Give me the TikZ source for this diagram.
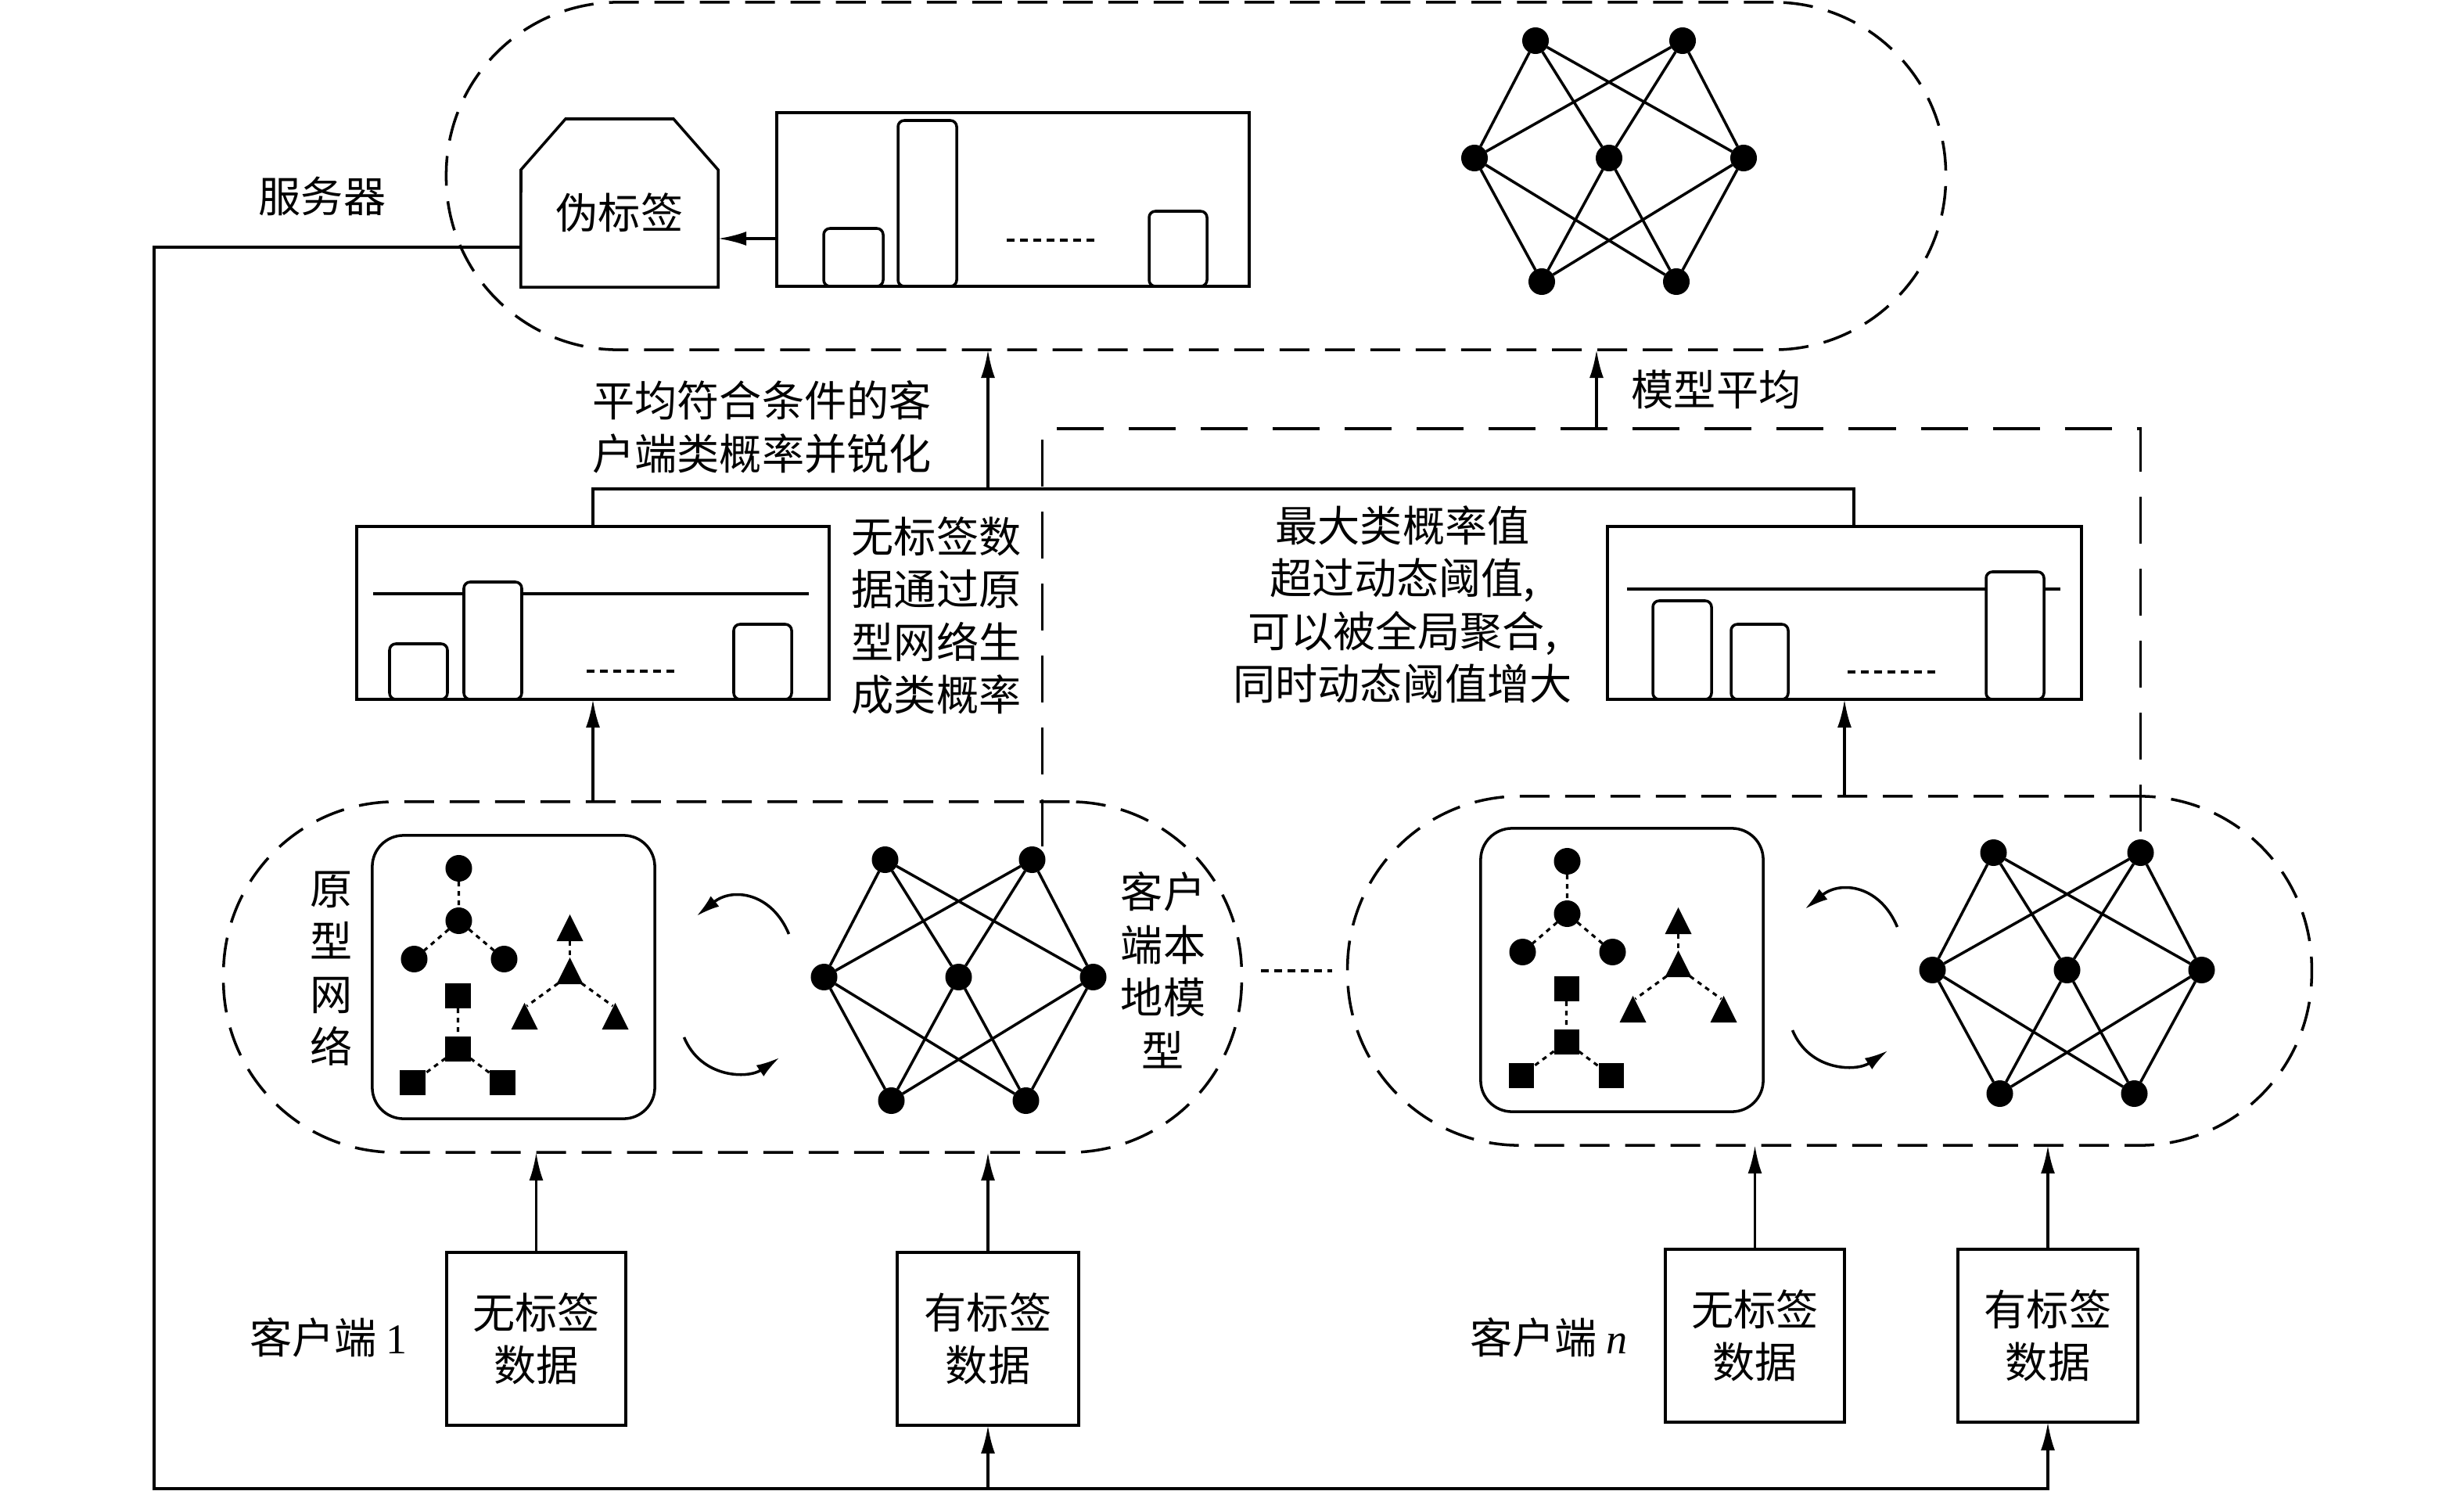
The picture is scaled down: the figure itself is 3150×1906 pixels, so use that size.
\documentclass[tikz,border=0pt]{standalone}
\usepackage{fontspec}
\setmainfont{Liberation Serif}
\newfontfamily\cjk{Noto Sans CJK SC}
\usetikzlibrary{arrows.meta,calc}
\newcommand\mynncode{%
  \node[nn] (-t1) at (-94,-150) {};
  \node[nn] (-t2) at (94,-150) {};
  \node[nn] (-m1) at (-172,0) {};
  \node[nn] (-m2) at (0,0) {};
  \node[nn] (-m3) at (172,0) {};
  \node[nn] (-b1) at (-86,158) {};
  \node[nn] (-b2) at (86,158) {};
  \foreach \a in {t1,t2,b1,b2}{\foreach \b in {m1,m2,m3}{\draw[edge] (-\a) -- (-\b);}}%
}
\newcommand\mytri[3]{% name, x, y (centre of bounding box)
  \fill (#2-17,#3+17) -- (#2,#3-17) -- (#2+17,#3+17) -- cycle;
  \coordinate (-#1) at (#2,#3);
}
\tikzset{
  every node/.style={inner sep=0pt, outer sep=0pt},
  lw/.style={line width=1pt},
  edge/.style={line width=1pt},
  plain/.style={draw, line width=1pt, fill=white},
  dbox/.style={draw, line width=1pt, dash pattern=on 0.38cm off 0.2cm, rounded corners=2.2cm},
  pbox/.style={draw, line width=1pt, rounded corners=0.4cm},
  bar/.style={draw, line width=1pt, fill=white, rounded corners=0.08cm},
  nn/.style={circle, fill=black, minimum size=0.34cm},
  tc/.style={circle, fill=black, minimum size=0.34cm},
  tsq/.style={rectangle, fill=black, minimum size=0.32cm},
  tree/.style={line width=0.9pt, dash pattern=on 0.06cm off 0.06cm},
  dots/.style={line width=1pt, dash pattern=on 0.1cm off 0.07cm},
  dashlink/.style={line width=1pt, dash pattern=on 0.6cm off 0.32cm},
  arr/.style={line width=1pt, -{Latex[length=0.36cm,width=0.18cm]}},
  carr/.style={line width=1pt, -{Latex[length=0.3cm,width=0.17cm]}},
  txt/.style={font=\cjk\fontsize{15.4pt}{19.2pt}\selectfont},
  nnet/.pic={\mynncode},
  core/.pic={
    \node[pbox, minimum width=3.61cm, minimum height=3.62cm] (-proto) at (0,0) {};
    \node[tc] (-c1) at (-70,-139) {};
    \node[tc] (-c2) at (-70,-72) {};
    \node[tc] (-c3) at (-127,-23) {};
    \node[tc] (-c4) at (-12,-23) {};
    \mytri{r1}{72}{-63}
    \mytri{r2}{72}{-8}
    \mytri{r3}{14}{50}
    \mytri{r4}{130}{50}
    \node[tsq] (-s1) at (-71,24) {};
    \node[tsq] (-s2) at (-71,92) {};
    \node[tsq] (-s3) at (-129,135) {};
    \node[tsq] (-s4) at (-14,135) {};
    \draw[tree] (-c1) -- (-c2) (-c2) -- (-c3) (-c2) -- (-c4);
    \draw[tree] ([yshift=-0.17cm]-r1) -- ([yshift=0.17cm]-r2);
    \draw[tree] ([xshift=-0.15cm,yshift=-0.16cm]-r2) -- ([xshift=0.03cm,yshift=0.13cm]-r3);
    \draw[tree] ([xshift=0.15cm,yshift=-0.16cm]-r2) -- ([xshift=-0.03cm,yshift=0.13cm]-r4);
    \draw[tree] (-s1) -- (-s2) (-s2) -- (-s3) (-s2) -- (-s4);
    \draw[carr] (352,-55) .. controls (330,-108) and (280,-115) .. (234,-78);
    \draw[carr] (218,77) .. controls (240,130) and (300,130) .. (340,103);
    \begin{scope}[shift={(569,0)}]\mynncode\end{scope}
  }
}
\begin{document}
\begin{tikzpicture}[x=0.01cm,y=-0.01cm]
\useasboundingbox (0,0) rectangle (3150,1906);

% ---------- server ----------
\node[dbox, minimum width=19.16cm, minimum height=4.44cm] (server) at (1529,225) {};
\node[txt] (slabel) at (412,251) {服务器};
\node[minimum width=2.52cm, minimum height=2.15cm] (pl) at (792,259.5) {};
\draw[lw] (pl.south west) -- (666,217) -- (723,152) -- (861,152) -- (918,217) -- (pl.south east) -- cycle;
\node[txt] (pltext) at (792,272) {伪标签};

\node[plain, minimum width=6.04cm, minimum height=2.22cm] (sb) at (1295,255) {};
\draw[bar] (1053,366) rectangle (1129,292);
\draw[bar] (1148,366) rectangle (1223,154);
\draw[bar] (1469,366) rectangle (1543,270);
\draw[dots] (1287,307) -- (1404,307);
\draw[arr] (sb.west |- 0,305) -- (pl.east |- 0,305);

\pic (snn) at (2057,202) {nnet};

% ---------- clients ----------
\node[dbox, minimum width=13.01cm, minimum height=4.48cm] (c1box) at (936.5,1249) {};
\node[dbox, minimum width=12.32cm, minimum height=4.46cm] (cnbox) at (2339,1241) {};
\pic (c1) at (656.5,1249) {core};
\pic (cn) at (2073.5,1240) {core};
\draw[dots] ([xshift=0.25cm]c1box.east |- cnbox.west) -- ([xshift=-0.2cm]cnbox.west);

\node[txt, align=center] (t5) at (424,1238) {原\\型\\网\\络};
\node[txt, align=center] (t6) at (1487,1240) {客户\\端本\\地模\\型};

% ---------- client bar boxes ----------
\node[plain, minimum width=6.04cm, minimum height=2.21cm] (b1) at (758,783.5) {};
\draw[lw] (477,759) -- (1034,759);
\draw[bar] (498,894) rectangle (572,823);
\draw[bar] (593,894) rectangle (667,744);
\draw[bar] (938,894) rectangle (1012,798);
\draw[dots] (750,858) -- (869,858);

\node[plain, minimum width=6.06cm, minimum height=2.21cm] (bn) at (2358,783.5) {};
\draw[lw] (2080,753) -- (2634,753);
\draw[bar] (2113,894) rectangle (2188,768);
\draw[bar] (2213,894) rectangle (2286,798);
\draw[bar] (2539,894) rectangle (2613,731);
\draw[dots] (2362,859) -- (2478,859);

\draw[arr] (c1box.north -| b1.south) -- (b1.south);
\draw[arr] (cnbox.north -| bn.south) -- (bn.south);

% ---------- aggregation ----------
\coordinate (agg) at (1263,625);
\draw[lw] (b1.north) |- (agg) -| ([xshift=0.12cm]bn.north);
\draw[arr] (agg) -- (agg |- server.south);

\coordinate (avg) at (2041,548);
\draw[dashlink] ([xshift=0.13cm]c1-t2.north) -- ([xshift=0.13cm]c1-t2.north |- avg) -- (cn-t2.north |- avg) -- (cn-t2.north);
\draw[arr] (avg) -- (avg |- server.south);

\node[txt, align=left] (t1) at (974,546) {平均符合条件的客\\户端类概率并锐化};
\node[txt, align=left] (t2) at (1197,787) {无标签数\\据通过原\\型网络生\\成类概率};
\node[txt, align=center] (t3) at (1793,773) {最大类概率值\\超过动态阈值,\\可以被全局聚合,\\同时动态阈值增大};
\node[txt] (t4) at (2194,498) {模型平均};

% ---------- data boxes ----------
\node[plain, txt, align=center, minimum width=2.29cm, minimum height=2.21cm] (d11) at (685.5,1711.5) {无标签\\数据};
\node[plain, txt, align=center, minimum width=2.32cm, minimum height=2.21cm] (d12) at (1263,1711.5) {有标签\\数据};
\node[plain, txt, align=center, minimum width=2.29cm, minimum height=2.21cm] (dn1) at (2243.5,1707.5) {无标签\\数据};
\node[plain, txt, align=center, minimum width=2.30cm, minimum height=2.21cm] (dn2) at (2618,1707.5) {有标签\\数据};
\node[txt] (t7) at (420,1710) {客户端 {\rmfamily 1}};
\node[txt] (t8) at (1980,1710) {客户端 {\rmfamily\itshape n}};

\draw[arr] (d11.north) -- (d11.north |- c1box.south);
\draw[arr] (d12.north) -- (d12.north |- c1box.south);
\draw[arr] (dn1.north) -- (dn1.north |- cnbox.south);
\draw[arr] (dn2.north) -- (dn2.north |- cnbox.south);

% ---------- feedback loop ----------
\coordinate (loopL) at (197,1903);
\draw[arr] (pl.west |- 0,316) -| (loopL) -| (dn2.south);
\draw[arr] (d12.south |- loopL) -- (d12.south);
\end{tikzpicture}
\end{document}
